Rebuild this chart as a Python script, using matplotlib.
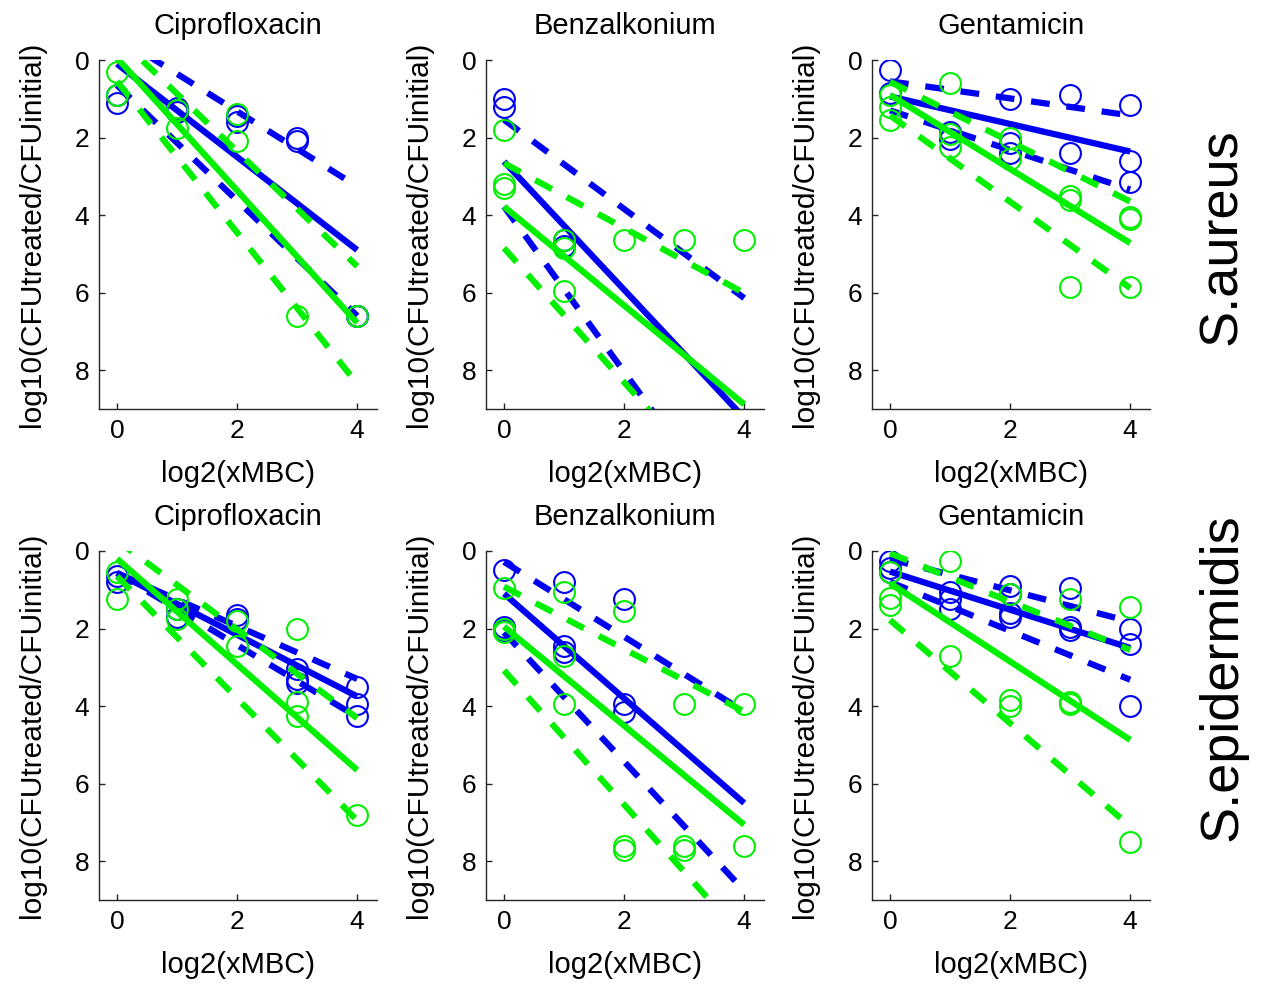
import numpy as np
import matplotlib
matplotlib.use("Agg")
import matplotlib.pyplot as plt

plt.rcParams['font.family'] = ['Liberation Sans', 'DejaVu Sans']

# ---------------- data ----------------
drugs = ["Ciprofloxacin", "Benzalkonium", "Gentamicin"]
species = ["S.aureus", "S.epidermidis"]
xlabel_text = "log2(xMBC)"
ylabel_text = "log10(CFUtreated/CFUinitial)"
yticks = [0, 2, 4, 6, 8]
xticks = [0, 2, 4]
line_x = [0, 4]

# S. aureus - Ciprofloxacin
sa_cip_blue_x = [0, 0, 1, 1, 2, 2, 3, 3, 4, 4]
sa_cip_blue_y = [0.9, 1.1, 1.25, 1.35, 1.45, 1.6, 2.0, 2.1, 6.6, 6.6]
sa_cip_green_x = [0, 0, 1, 1, 2, 2, 3, 4]
sa_cip_green_y = [0.3, 0.9, 1.3, 1.75, 1.4, 2.1, 6.6, 6.6]
sa_cip_blue_fit = [0.1, 4.9]
sa_cip_blue_lo = [-0.61, 3.26]
sa_cip_blue_hi = [0.65, 6.6]
sa_cip_green_fit = [-0.05, 6.78]
sa_cip_green_lo = [-0.61, 5.32]
sa_cip_green_hi = [0.55, 8.35]

# S. aureus - Benzalkonium
sa_ben_blue_x = [0, 0, 1, 1]
sa_ben_blue_y = [1.0, 1.2, 4.65, 4.8]
sa_ben_green_x = [0, 0, 0, 1, 1, 1, 2, 3, 4]
sa_ben_green_y = [1.8, 3.2, 3.3, 4.65, 4.85, 5.95, 4.65, 4.65, 4.65]
sa_ben_blue_fit = [2.62, 9.23]
sa_ben_blue_lo = [1.54, 6.14]
sa_ben_blue_hi = [3.78, 12.3]
sa_ben_green_fit = [3.78, 8.88]
sa_ben_green_lo = [2.66, 6.01]
sa_ben_green_hi = [4.85, 11.77]

# S. aureus - Gentamicin
sa_gen_blue_x = [0, 0, 1, 1, 2, 2, 2, 3, 3, 4, 4, 4]
sa_gen_blue_y = [0.25, 0.85, 1.85, 2.05, 1.0, 2.15, 2.4, 0.9, 2.4, 1.15, 2.6, 3.15]
sa_gen_green_x = [0, 0, 0, 1, 1, 1, 2, 2, 3, 3, 3, 4, 4, 4]
sa_gen_green_y = [0.9, 1.2, 1.55, 0.6, 1.9, 2.25, 2.0, 2.55, 3.5, 3.6, 5.85, 4.05, 4.1, 5.85]
sa_gen_blue_fit = [0.94, 2.36]
sa_gen_blue_lo = [0.55, 1.43]
sa_gen_blue_hi = [1.3, 3.34]
sa_gen_green_fit = [0.9, 4.72]
sa_gen_green_lo = [0.56, 3.65]
sa_gen_green_hi = [1.43, 5.88]

# S. epidermidis - Ciprofloxacin
se_cip_blue_x = [0, 0, 1, 1, 2, 2, 3, 3, 3, 4, 4, 4]
se_cip_blue_y = [0.65, 0.8, 1.5, 1.7, 1.65, 1.75, 3.05, 3.3, 3.4, 3.5, 3.95, 4.25]
se_cip_green_x = [0, 0, 1, 1, 1, 2, 2, 3, 3, 3, 4]
se_cip_green_y = [0.55, 1.25, 1.25, 1.5, 1.75, 1.8, 2.45, 2.0, 3.9, 4.25, 6.8]
se_cip_blue_fit = [0.57, 3.75]
se_cip_blue_lo = [0.57, 3.3]
se_cip_blue_hi = [0.57, 4.28]
se_cip_green_fit = [0.2, 5.65]
se_cip_green_lo = [-0.27, 4.31]
se_cip_green_hi = [0.65, 6.95]

# S. epidermidis - Benzalkonium
se_ben_blue_x = [0, 0, 0, 1, 1, 1, 2, 2, 2]
se_ben_blue_y = [0.5, 1.95, 2.05, 0.8, 2.45, 2.6, 1.25, 3.95, 4.15]
se_ben_green_x = [0, 0, 0, 1, 1, 1, 2, 2, 2, 3, 3, 3, 4, 4]
se_ben_green_y = [0.95, 2.0, 2.1, 1.05, 2.7, 3.95, 1.55, 7.6, 7.7, 3.95, 7.6, 7.7, 3.95, 7.6]
se_ben_blue_fit = [1.1, 6.5]
se_ben_blue_lo = [0.28, 4.14]
se_ben_blue_hi = [2.1, 8.76]
se_ben_green_fit = [1.95, 7.06]
se_ben_green_lo = [0.92, 4.14]
se_ben_green_hi = [3.08, 10.0]

# S. epidermidis - Gentamicin
se_gen_blue_x = [0, 0, 0, 1, 1, 1, 2, 2, 2, 2, 3, 3, 3, 4, 4, 4]
se_gen_blue_y = [0.25, 0.45, 0.55, 1.05, 1.25, 1.5, 0.9, 1.1, 1.6, 1.7, 0.95, 1.95, 2.05, 2.0, 2.4, 4.0]
se_gen_green_x = [0, 0, 0, 1, 1, 2, 2, 2, 3, 3, 3, 4, 4]
se_gen_green_y = [0.55, 1.2, 1.4, 0.25, 2.7, 1.1, 3.85, 4.0, 1.25, 3.9, 3.95, 1.45, 7.5]
se_gen_blue_fit = [0.53, 2.5]
se_gen_blue_lo = [0.21, 1.82]
se_gen_blue_hi = [0.8, 3.32]
se_gen_green_fit = [0.83, 4.87]
se_gen_green_lo = [0.06, 2.55]
se_gen_green_hi = [1.78, 7.1]

panels = [
    [(sa_cip_blue_x, sa_cip_blue_y, sa_cip_blue_fit, sa_cip_blue_lo, sa_cip_blue_hi,
      sa_cip_green_x, sa_cip_green_y, sa_cip_green_fit, sa_cip_green_lo, sa_cip_green_hi),
     (sa_ben_blue_x, sa_ben_blue_y, sa_ben_blue_fit, sa_ben_blue_lo, sa_ben_blue_hi,
      sa_ben_green_x, sa_ben_green_y, sa_ben_green_fit, sa_ben_green_lo, sa_ben_green_hi),
     (sa_gen_blue_x, sa_gen_blue_y, sa_gen_blue_fit, sa_gen_blue_lo, sa_gen_blue_hi,
      sa_gen_green_x, sa_gen_green_y, sa_gen_green_fit, sa_gen_green_lo, sa_gen_green_hi)],
    [(se_cip_blue_x, se_cip_blue_y, se_cip_blue_fit, se_cip_blue_lo, se_cip_blue_hi,
      se_cip_green_x, se_cip_green_y, se_cip_green_fit, se_cip_green_lo, se_cip_green_hi),
     (se_ben_blue_x, se_ben_blue_y, se_ben_blue_fit, se_ben_blue_lo, se_ben_blue_hi,
      se_ben_green_x, se_ben_green_y, se_ben_green_fit, se_ben_green_lo, se_ben_green_hi),
     (se_gen_blue_x, se_gen_blue_y, se_gen_blue_fit, se_gen_blue_lo, se_gen_blue_hi,
      se_gen_green_x, se_gen_green_y, se_gen_green_fit, se_gen_green_lo, se_gen_green_hi)],
]

# ---------------- style ----------------
BLUE = '#0000F0'
GREEN = '#00F000'
LW = 4.5
DASH = (0, (3.0, 2.7))
MS = 15
MEW = 1.5

W, H = 1271, 986
fig = plt.figure(figsize=(W / 100, H / 100), dpi=100)

col_left = [99, 486, 872]
col_w = 278
row_top = [60, 551]
row_h = 349


def draw_series(ax, xs, ys, fit, lo, hi, color):
    ax.plot(xs, ys, linestyle='none', marker='o', markersize=MS,
            markerfacecolor='none', markeredgecolor=color, markeredgewidth=MEW,
            zorder=3)
    ax.plot(line_x, fit, color=color, lw=LW, solid_capstyle='butt', zorder=3)
    ax.plot(line_x, lo, color=color, lw=LW, linestyle=DASH, dash_capstyle='butt', zorder=3)
    ax.plot(line_x, hi, color=color, lw=LW, linestyle=DASH, dash_capstyle='butt', zorder=3)


for r in range(2):
    for c in range(3):
        left = col_left[c] / W
        bottom = 1 - (row_top[r] + row_h) / H
        ax = fig.add_axes([left, bottom, col_w / W, row_h / H])
        (bx, by, bfit, blo, bhi, gx, gy, gfit, glo, ghi) = panels[r][c]
        draw_series(ax, bx, by, bfit, blo, bhi, BLUE)
        draw_series(ax, gx, gy, gfit, glo, ghi, GREEN)

        ax.set_xlim(-0.3, 4.33)
        ax.set_ylim(9, 0)
        ax.set_xticks(xticks)
        ax.set_yticks(yticks)
        ax.spines['top'].set_visible(False)
        ax.spines['right'].set_visible(False)
        for s in ('left', 'bottom'):
            ax.spines[s].set_color('#262626')
            ax.spines[s].set_linewidth(1.0)
        ax.tick_params(direction='in', length=4, width=1.0, color='#262626',
                       labelsize=19, pad=7)
        ax.set_title(drugs[c], fontsize=21, pad=19)
        ax.set_xlabel(xlabel_text, fontsize=21)
        ax.set_ylabel(ylabel_text, fontsize=21.5)
        ax.xaxis.set_label_coords(0.5, -0.145)
        ax.yaxis.set_label_coords(-0.19, 0.5)

fig.text(1222 / W, 1 - 237 / H, species[0], rotation=90, fontsize=39,
         ha='center', va='center')
fig.text(1222 / W, 1 - 677 / H, species[1], rotation=90, fontsize=39,
         ha='center', va='center')

fig.savefig('out.png', dpi=100, facecolor='white')
